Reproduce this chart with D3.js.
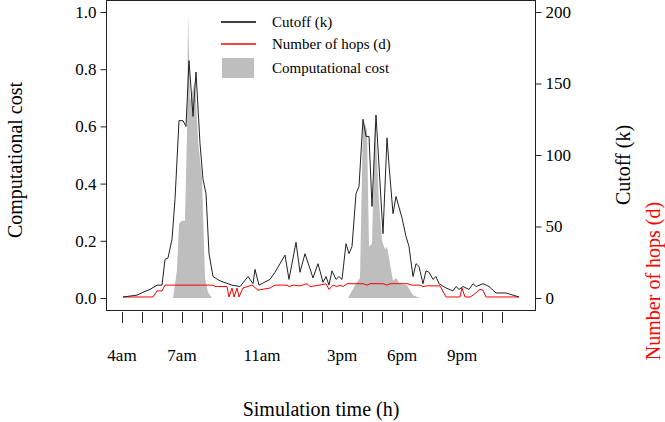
<!DOCTYPE html><html><head><meta charset="utf-8"><script src="https://cdn.jsdelivr.net/npm/d3@7"></script>
<style>body{margin:0;background:#fff}svg text{font-family:"Liberation Serif","Times New Roman",serif !important}</style></head><body><svg id="c" width="665" height="422"></svg>
<script>
const cutoffT=[4.05,4.75,5.05,5.4,5.75,6.0,6.15,6.3,6.5,6.65,6.85,7.05,7.2,7.35,7.55,7.7,7.9,8.05,8.2,8.35,8.55,8.9,9.3,9.5,9.9,10.3,10.55,10.65,10.85,11.4,11.65,12.15,12.35,12.7,12.9,13.15,13.55,13.8,14.05,14.2,14.35,14.5,14.7,14.85,15.0,15.2,15.35,15.5,15.7,15.85,16.05,16.2,16.35,16.5,16.7,17.05,17.25,17.35,17.55,17.7,18.0,18.2,18.35,18.55,18.7,18.85,19.05,19.2,19.35,19.55,19.7,19.85,20.2,20.55,20.7,20.85,21.05,21.35,21.55,21.7,22.05,22.35,22.7,23.2,23.55,23.85];
const cutoffK=[0.7,2,4,6,9,9,27,28,41,69,124,124,120,166,127,158,108,83,73,31,15,12,10,9,8,15,10,20,9,13,18,30,13,39,18,31,14,24,11,15,9,19,13,15,13,38,31,36,73,78,125,113,113,64,128,45,112,93,59,71,56,43,36,15,24,22,10,19,18,13,15,10,7,5,8,6,8,6,10,8,10,8,3.5,3.5,2,0.7];
const hopsT=[4.05,5.55,5.75,6.0,6.15,8.55,8.65,9.25,9.35,9.5,9.6,9.75,9.85,10.05,10.5,10.8,11.4,11.65,12.25,12.35,12.55,12.9,13.25,13.4,13.9,14.2,14.35,14.55,14.75,14.9,15.05,15.25,16.05,16.25,16.4,17.05,17.25,17.4,18.25,18.5,18.9,19.05,19.25,19.9,20.2,20.9,21.0,21.15,21.4,21.55,21.9,22.05,22.2,23.85];
const hopsD=[0.7,0.7,5,5,9,9,8,8,0.7,7,0.7,7,0.7,7,9,5.5,7,9,9,8,9,8.5,10,8,9,10,6,9,8,9,8,10,10,9,10,10,9,10,10,9,9,8,8.5,8.5,0.7,0.7,7,0.7,0.7,2,6,5.5,0.7,0.7];
const costT=[4.05,6.55,6.75,6.85,7.0,7.15,7.25,7.3,7.4,7.65,7.8,8.0,8.15,8.3,8.5,15.3,15.7,15.9,16.05,16.25,16.35,16.5,16.65,16.85,17.0,17.15,17.25,17.35,17.55,17.7,17.9,18.25,18.55,18.9,23.85];
const costC=[0,0,0.1,0.26,0.27,0.27,0.58,1.0,0.69,0.76,0.55,0.42,0.07,0.02,0,0,0.05,0.07,0.62,0.59,0.18,0.19,0.63,0.34,0.2,0.17,0.18,0.14,0.06,0.07,0.05,0.045,0.01,0,0];
const xTicks=d3.range(4,24);
const xLabels=[[4,"4am"],[7,"7am"],[11,"11am"],[15,"3pm"],[18,"6pm"],[21,"9pm"]];
const leftTicks=[0,0.2,0.4,0.6,0.8,1.0], rightTicks=[0,50,100,150,200];

const FF='"Liberation Serif","Times New Roman",serif';
const svg=d3.select("#c");
const x=d3.scaleLinear().domain([4,23]).range([122,502]);
const yL=d3.scaleLinear().domain([0,1]).range([298,12]);
const yR=d3.scaleLinear().domain([0,200]).range([298,12]);
const L=106.5,R=535.5,T=0.5,B=310.5;
svg.append("path").datum(costT.map((t,i)=>[t,costC[i]])).attr("fill","#bebebe")
 .attr("d",d3.area().x(d=>x(d[0])).y0(yL(0)).y1(d=>yL(d[1])));
svg.append("path").datum(hopsT.map((t,i)=>[t,hopsD[i]])).attr("fill","none").attr("stroke","#ff0000").attr("stroke-width",1)
 .attr("d",d3.line().x(d=>x(d[0])).y(d=>yR(d[1])));
svg.append("path").datum(cutoffT.map((t,i)=>[t,cutoffK[i]])).attr("fill","none").attr("stroke","#222").attr("stroke-width",1)
 .attr("d",d3.line().x(d=>x(d[0])).y(d=>yR(d[1])));
svg.append("rect").attr("x",L).attr("y",T).attr("width",R-L).attr("height",B-T).attr("fill","none").attr("stroke","#222");
const gl=svg.append("g").attr("transform",`translate(${L},0)`).call(d3.axisLeft(yL).tickValues(leftTicks).tickFormat(d3.format(".1f")).tickSize(6).tickSizeOuter(0));
const gr=svg.append("g").attr("transform",`translate(${R},0)`).call(d3.axisRight(yR).tickValues(rightTicks).tickSize(6).tickSizeOuter(0));
const gx=svg.append("g").attr("transform",`translate(0,312)`).call(d3.axisBottom(x).tickValues(xTicks).tickFormat("").tickSize(11).tickSizeOuter(0));
[gl,gr,gx].forEach(g=>{g.attr("font-family",FF).attr("font-size",17);g.select(".domain").remove();g.selectAll("line").attr("stroke","#222");g.selectAll("text").attr("fill","#000");});
gl.selectAll("text").attr("x",-10); gr.selectAll("text").attr("x",10);
svg.append("g").selectAll("text").data(xLabels).join("text").attr("x",d=>x(d[0])).attr("y",361).attr("text-anchor","middle").attr("font-size",17).text(d=>d[1]);
svg.append("text").attr("x",321).attr("y",416).attr("text-anchor","middle").attr("font-size",20).text("Simulation time (h)");
svg.append("text").attr("transform","translate(22,160) rotate(-90)").attr("text-anchor","middle").attr("font-size",20).text("Computational cost");
svg.append("text").attr("transform","translate(630,165) rotate(-90)").attr("text-anchor","middle").attr("font-size",20).text("Cutoff (k)");
svg.append("text").attr("transform","translate(660,281) rotate(-90)").attr("text-anchor","middle").attr("font-size",20).attr("fill","#ff0000").text("Number of hops (d)");
const lg=svg.append("g");
lg.append("line").attr("x1",221).attr("x2",256).attr("y1",22).attr("y2",22).attr("stroke","#000").attr("stroke-width",1.5);
lg.append("line").attr("x1",221).attr("x2",256).attr("y1",44).attr("y2",44).attr("stroke","#ff0000").attr("stroke-width",1.5);
lg.append("rect").attr("x",222).attr("y",58).attr("width",32).attr("height",20).attr("fill","#bebebe");
[["Cutoff (k)",27],["Number of hops (d)",49],["Computational cost",73]].forEach(d=>lg.append("text").attr("x",272).attr("y",d[1]).attr("font-size",15).text(d[0]));
</script></body></html>
